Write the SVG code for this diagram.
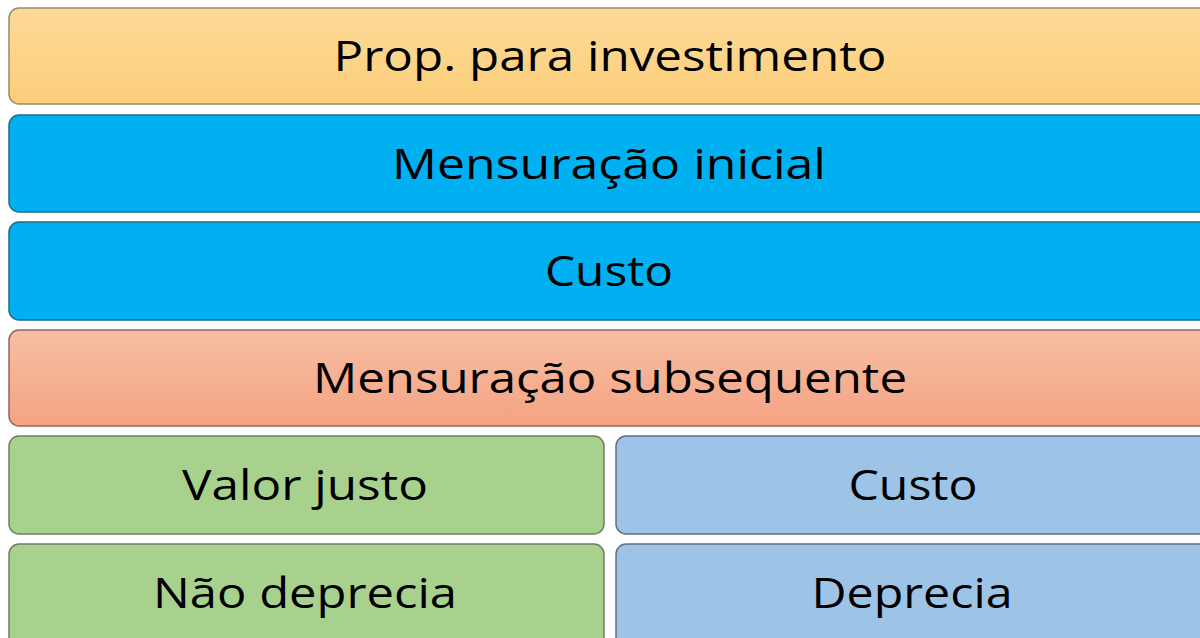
<svg xmlns="http://www.w3.org/2000/svg" width="1200" height="638" viewBox="0 0 1200 638">
  <defs>
    <linearGradient id="gOrange" x1="0" y1="0" x2="0" y2="1">
      <stop offset="0" stop-color="#FDDA9A"/>
      <stop offset="1" stop-color="#FCCE79"/>
    </linearGradient>
    <linearGradient id="gSalmon" x1="0" y1="0" x2="0" y2="1">
      <stop offset="0" stop-color="#F7BEA4"/>
      <stop offset="1" stop-color="#F4A382"/>
    </linearGradient>
  </defs>
  <style>
    .box { stroke-width: 1.5; }
    .lbl { font-family: "Open Sans", "Liberation Sans", sans-serif; font-size: 42px; fill: #000; text-anchor: middle; }
  </style>
  <rect width="1200" height="638" fill="#FFFFFF"/>
  <g id="prop">
    <rect class="box" x="9" y="8" width="1202" height="96" rx="10" fill="url(#gOrange)" stroke="#9A8A6E"/>
    <text class="lbl" x="610" y="71" textLength="553" lengthAdjust="spacingAndGlyphs">Prop. para investimento</text>
  </g>
  <g id="mensuracao-inicial">
    <rect class="box" x="9" y="115" width="1202" height="97" rx="10" fill="#00B0F0" stroke="#1B6E8E"/>
    <text class="lbl" x="609" y="179" textLength="434" lengthAdjust="spacingAndGlyphs">Mensuração inicial</text>
  </g>
  <g id="custo-inicial">
    <rect class="box" x="9" y="222" width="1202" height="98" rx="10" fill="#00B0F0" stroke="#1B6E8E"/>
    <text class="lbl" x="609" y="286" textLength="128" lengthAdjust="spacingAndGlyphs">Custo</text>
  </g>
  <g id="mensuracao-subsequente">
    <rect class="box" x="9" y="330" width="1202" height="96" rx="10" fill="url(#gSalmon)" stroke="#8E6A5C"/>
    <text class="lbl" x="610" y="393" textLength="594" lengthAdjust="spacingAndGlyphs">Mensuração subsequente</text>
  </g>
  <g id="valor-justo">
    <rect class="box" x="9" y="436" width="595" height="98" rx="10" fill="#A9D18E" stroke="#6E7F64"/>
    <text class="lbl" x="305" y="500" textLength="246" lengthAdjust="spacingAndGlyphs">Valor justo</text>
  </g>
  <g id="custo">
    <rect class="box" x="616" y="436" width="595" height="98" rx="10" fill="#9DC3E6" stroke="#5E7184"/>
    <text class="lbl" x="913" y="500" textLength="129" lengthAdjust="spacingAndGlyphs">Custo</text>
  </g>
  <g id="nao-deprecia">
    <rect class="box" x="9" y="544" width="595" height="104" rx="10" fill="#A9D18E" stroke="#6E7F64"/>
    <text class="lbl" x="305" y="608" textLength="304" lengthAdjust="spacingAndGlyphs">Não deprecia</text>
  </g>
  <g id="deprecia">
    <rect class="box" x="616" y="544" width="595" height="104" rx="10" fill="#9DC3E6" stroke="#5E7184"/>
    <text class="lbl" x="912" y="608" textLength="201" lengthAdjust="spacingAndGlyphs">Deprecia</text>
  </g>
  <g id="connectors"/>
</svg>
